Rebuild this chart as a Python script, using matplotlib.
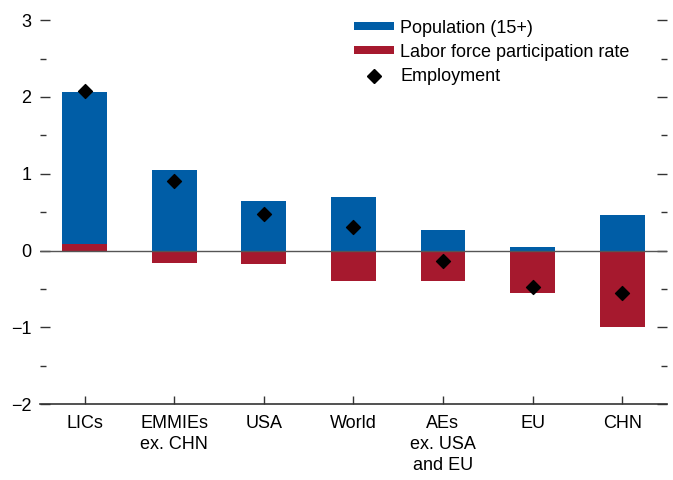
import matplotlib.pyplot as plt
from matplotlib.ticker import MultipleLocator
from matplotlib.lines import Line2D
from matplotlib.patches import Patch

plt.rcParams['font.family'] = ['Liberation Sans Narrow', 'Liberation Sans', 'DejaVu Sans']

categories = ['LICs', 'EMMIEs\nex. CHN', 'USA', 'World', 'AEs\nex. USA\nand EU', 'EU', 'CHN']
population = [1.98, 1.05, 0.64, 0.70, 0.27, 0.05, 0.46]
lfpr = [0.09, -0.16, -0.18, -0.39, -0.40, -0.55, -1.00]
employment = [2.08, 0.90, 0.47, 0.31, -0.13, -0.48, -0.55]

blue = '#005DA6'
red = '#A6192E'

fig = plt.figure(figsize=(6.73, 4.8), dpi=100)
ax = fig.add_axes([0.059, 0.158, 0.932, 0.8])

x = list(range(len(categories)))
# stack the positive part of lfpr under population, negative part goes below zero
pop_bottom = [v if v > 0 else 0 for v in lfpr]
ax.bar(x, lfpr, width=0.5, color=red, zorder=2)
ax.bar(x, population, width=0.5, bottom=pop_bottom, color=blue, zorder=2)
ax.scatter(x, employment, marker='D', s=50, color='black', zorder=4)

ax.axhline(0, color='#555555', lw=1, zorder=3)

ax.set_xlim(-0.5, 6.5)
ax.set_ylim(-2, 3)
ax.set_xticks(x)
ax.set_xticklabels(categories, fontsize=13, linespacing=1.3)
ax.yaxis.set_major_locator(MultipleLocator(1))
ax.yaxis.set_minor_locator(MultipleLocator(0.5))

for s in ['top', 'left', 'right']:
    ax.spines[s].set_visible(False)
ax.spines['bottom'].set_color('#333333')
ax.spines['bottom'].set_linewidth(1.2)

ax.tick_params(axis='y', which='both', direction='in', left=True, right=True,
               labelsize=13, color='#333333', pad=6)
ax.tick_params(axis='y', which='major', length=7, width=1)
ax.tick_params(axis='y', which='minor', length=4, width=1)
ax.tick_params(axis='x', direction='in', length=6, width=1, color='#333333',
               labelsize=13, pad=8)

handles = [
    Patch(facecolor=blue, label='Population (15+)'),
    Patch(facecolor=red, label='Labor force participation rate'),
    Line2D([], [], marker='D', color='black', ls='none', markersize=7, label='Employment'),
]
ax.legend(handles=handles, loc='upper left', bbox_to_anchor=(0.49, 1.02), frameon=False,
          fontsize=13, handlelength=2.2, handleheight=0.3, handletextpad=0.35,
          labelspacing=0.4, borderaxespad=0)

fig.savefig('out.png', dpi=100)
